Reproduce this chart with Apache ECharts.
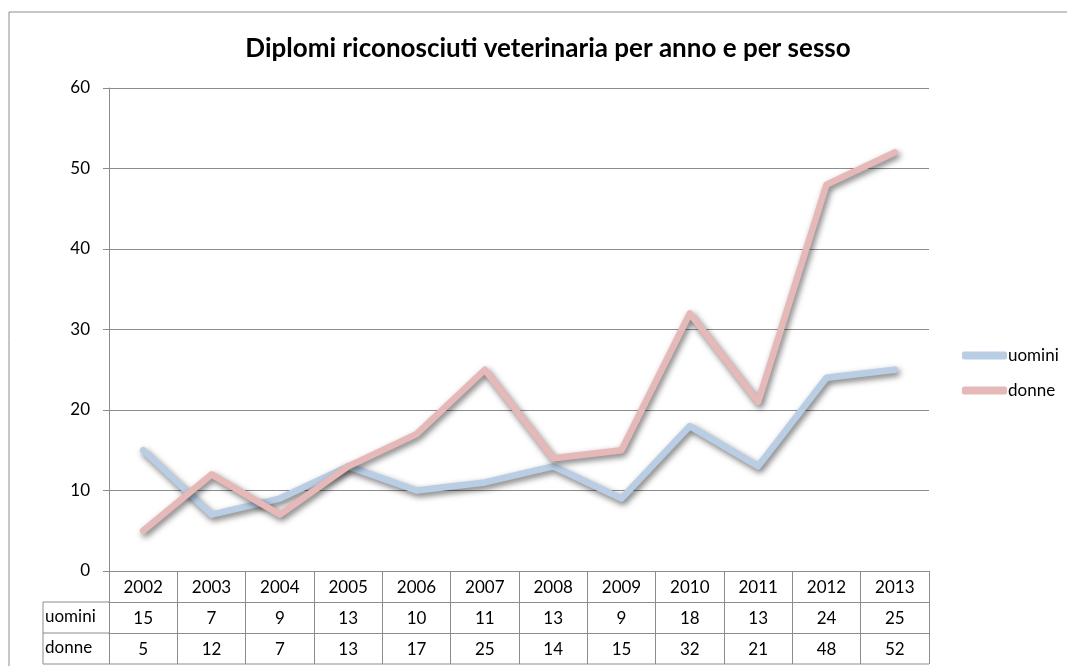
<!DOCTYPE html>
<html>
<head>
<meta charset="utf-8">
<script src="https://cdn.jsdelivr.net/npm/echarts@6/dist/echarts.min.js"></script>
<style>
  html, body { margin: 0; padding: 0; background: #fff; }
  #container { width: 1067px; height: 666px; }
</style>
</head>
<body>
<div id="container"></div>
<script>
var anni = ['2002', '2003', '2004', '2005', '2006', '2007', '2008', '2009', '2010', '2011', '2012', '2013'];
var uomini = [15, 7, 9, 13, 10, 11, 13, 9, 18, 13, 24, 25];
var donne = [5, 12, 7, 13, 17, 25, 14, 15, 32, 21, 48, 52];
var yTicks = [0, 10, 20, 30, 40, 50, 60];

var FONT = 'Lato';
var GRID_L = 109, GRID_R = 929, GRID_T = 88, GRID_B = 571;
var ROW = 31;
var lineColor = '#8c8c8c';

function printChart() {
    var dom = document.getElementById('container');
    var myChart = echarts.init(dom);

    function tableAxis(offset, rowData) {
        return {
            type: 'category',
            data: anni,
            position: 'bottom',
            offset: offset,
            boundaryGap: true,
            axisLine: { show: true, lineStyle: { color: lineColor, width: 1 } },
            axisTick: { show: true, inside: false, length: ROW, lineStyle: { color: lineColor, width: 1 } },
            axisLabel: {
                margin: 8,
                fontFamily: FONT,
                fontSize: 17,
                color: '#000',
                formatter: function (v, i) { return rowData ? String(rowData[i]) : v; }
            },
            splitLine: { show: false }
        };
    }

    var option = {
        backgroundColor: '#fff',
        animation: false,
        title: {
            text: 'Diplomi riconosciuti veterinaria per anno e per sesso',
            left: 543,
            textAlign: 'center',
            top: 31,
            textStyle: { fontFamily: FONT, fontSize: 26, fontWeight: 'bold', color: '#000' }
        },
        legend: {
            orient: 'vertical',
            left: 957,
            top: 342,
            icon: 'roundRect',
            itemWidth: 45,
            itemHeight: 8,
            itemGap: 18,
            textStyle: { fontFamily: FONT, fontSize: 17, color: '#000', padding: [0, 0, 0, -4] },
            data: ['uomini', 'donne']
        },
        grid: {
            left: GRID_L,
            right: 1067 - GRID_R,
            top: GRID_T,
            bottom: 666 - GRID_B
        },
        xAxis: [
            tableAxis(0, null),
            tableAxis(ROW, uomini),
            tableAxis(ROW * 2, donne)
        ],
        yAxis: {
            type: 'value',
            min: yTicks[0],
            max: yTicks[yTicks.length - 1],
            interval: 10,
            axisLine: { show: true, lineStyle: { color: lineColor, width: 1 } },
            axisTick: { show: true, length: 6, lineStyle: { color: lineColor } },
            axisLabel: { margin: 19, fontFamily: FONT, fontSize: 17, color: '#000' },
            splitLine: { show: true, lineStyle: { color: lineColor, width: 1 } }
        },
        graphic: [
            { type: 'line', shape: { x1: 43, y1: GRID_B + ROW, x2: GRID_L, y2: GRID_B + ROW }, style: { stroke: lineColor, lineWidth: 1 } },
            { type: 'line', shape: { x1: 43, y1: GRID_B + ROW * 2, x2: GRID_L, y2: GRID_B + ROW * 2 }, style: { stroke: lineColor, lineWidth: 1 } },
            { type: 'line', shape: { x1: 43, y1: GRID_B + ROW * 3, x2: GRID_R, y2: GRID_B + ROW * 3 }, style: { stroke: lineColor, lineWidth: 1 } },
            { type: 'line', shape: { x1: 43, y1: GRID_B + ROW, x2: 43, y2: GRID_B + ROW * 3 }, style: { stroke: lineColor, lineWidth: 1 } },
            { type: 'text', left: 45, top: GRID_B + ROW + 6, style: { text: 'uomini', font: '17px ' + FONT, fill: '#000' } },
            { type: 'text', left: 45, top: GRID_B + ROW * 2 + 6, style: { text: 'donne', font: '17px ' + FONT, fill: '#000' } },
            { type: 'rect', shape: { x: 9, y: 12, width: 1080, height: 700 }, style: { fill: 'none', stroke: '#8c8c8c', lineWidth: 1 }, z: -1 }
        ],
        series: [
            {
                name: 'uomini',
                type: 'line',
                xAxisIndex: 0,
                color: '#b9cde5',
                symbol: 'none',
                data: uomini,
                lineStyle: {
                    width: 6.5, cap: 'round', join: 'round', color: '#b9cde5',
                    shadowColor: 'rgba(0,0,0,0.55)', shadowBlur: 6, shadowOffsetX: 2, shadowOffsetY: 3
                }
            },
            {
                name: 'donne',
                type: 'line',
                xAxisIndex: 0,
                color: '#e6b9b8',
                symbol: 'none',
                data: donne,
                lineStyle: {
                    width: 6.5, cap: 'round', join: 'round', color: '#e6b9b8',
                    shadowColor: 'rgba(0,0,0,0.55)', shadowBlur: 6, shadowOffsetX: 2, shadowOffsetY: 3
                }
            }
        ]
    };

    if (option && typeof option === 'object') {
        myChart.setOption(option, true);
    }
}

printChart();
</script>
</body>
</html>
